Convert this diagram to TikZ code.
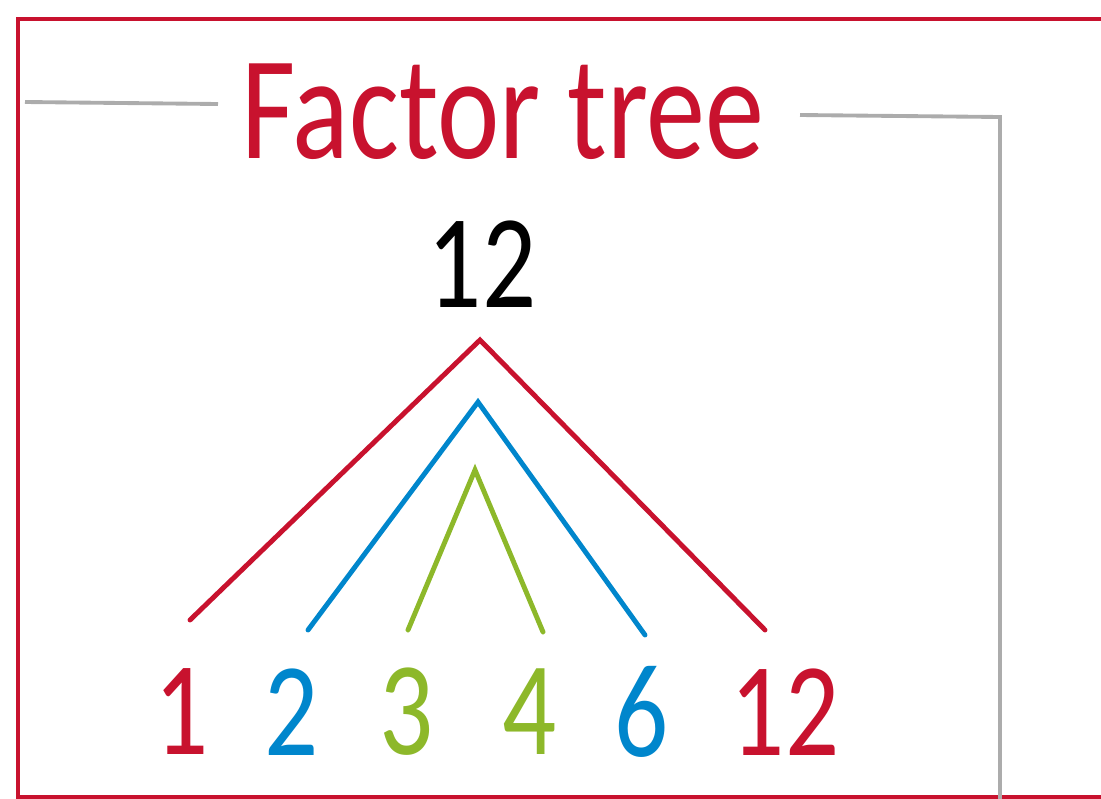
\documentclass[tikz,border=0pt]{standalone}
\usepackage{fontspec}
\setmainfont{Carlito}
\usetikzlibrary{positioning}
\definecolor{factred}{RGB}{200,18,46}
\definecolor{factblue}{RGB}{0,134,204}
\definecolor{factgreen}{RGB}{141,184,42}
\definecolor{framegray}{RGB}{172,172,172}
\newcommand{\slimtext}[1]{\scalebox{0.8}[1]{#1}}
\begin{document}
\begin{tikzpicture}[x=0.02cm,y=-0.02cm,
num/.style={inner sep=0pt,font=\fontsize{76}{76}\selectfont},
branch/.style={line width=2.8pt,line cap=round}]
\useasboundingbox (0,0) rectangle (1101,798);
\clip (0,0) rectangle (1101,798);
% outer red frame and grey box
\draw[factred,line width=2.4pt] (1120,19) -- (18,19) -- (18,797) -- (1120,797);
\draw[framegray,line width=2.2pt] (25,102) -- (218,104);
\draw[framegray,line width=2.2pt] (800,115) -- (1000,117) -- (1000,810);
\node[num,text=factred,font=\fontsize{84}{84}\selectfont](title)at(503,112){\slimtext{Factor tree}};
\node[num](top)at(482,264){\slimtext{12}};
% leaves
\node[num,text=factred](n1)at(182,712){\slimtext{1}};
\node[num,text=factblue](n2)at(292,712){\slimtext{2}};
\node[num,text=factgreen](n3)at(407,712){\slimtext{3}};
\node[num,text=factgreen](n4)at(530,712){\slimtext{4}};
\node[num,text=factblue](n6)at(642,712){\slimtext{6}};
\node[num,text=factred](n12)at(785,712){\slimtext{12}};
% branch points
\coordinate(ra)at(480,340);
\coordinate(ba)at(478,402);
\coordinate(ga)at(475,470);
\coordinate(f1)at(190,620);
\coordinate(f2)at(308,630);
\coordinate(f3)at(408,630);
\coordinate(f4)at(543,632);
\coordinate(f6)at(645,635);
\coordinate(f12)at(765,630);
\draw[branch,factred](f1)--(ra)--(f12);
\draw[branch,factblue](f2)--(ba)--(f6);
\draw[branch,factgreen](f3)--(ga)--(f4);
\end{tikzpicture}
\end{document}
